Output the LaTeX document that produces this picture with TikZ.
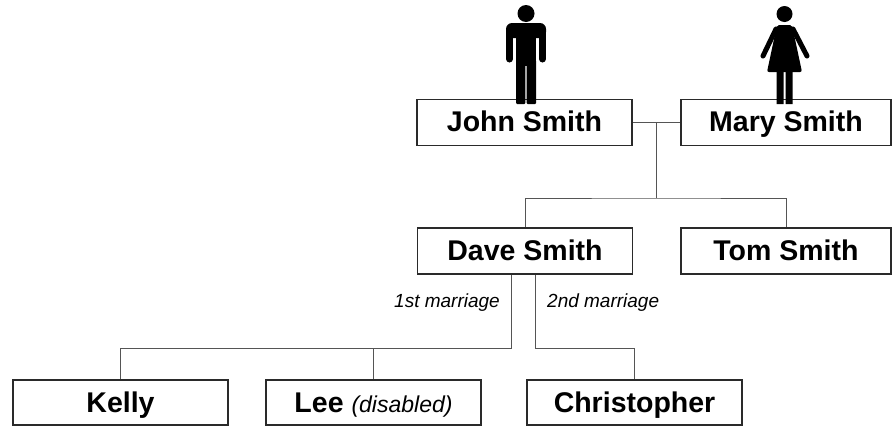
\documentclass[tikz,border=0pt]{standalone}
\usepackage{fontspec}
\setmainfont{Liberation Sans}
\usepackage{tikz}

\definecolor{boxline}{HTML}{2A2A2A}
\definecolor{linkline}{HTML}{555555}
\tikzset{
  person/.style={draw=boxline, line width=1.6pt, fill=white, inner sep=0pt,
    minimum width=215pt, minimum height=46pt, text height=22.5pt, text depth=4.5pt,
    font=\fontsize{28.5}{30}\selectfont\bfseries},
  link/.style={draw=linkline, line width=1pt},
  marr/.style={font=\fontsize{19}{20}\selectfont\itshape, inner sep=0pt},
}

\begin{document}
\begin{tikzpicture}[x=1pt,y=-1pt]
\useasboundingbox (0,0) rectangle (892,426);
\node[person] (john) at (524.5,122.5) {John Smith};
\node[person, minimum width=210pt] (mary) at (786,122.5) {Mary Smith};
\node[person] (dave) at (525,251) {Dave Smith};
\node[person, minimum width=210pt] (tom) at (786,251) {Tom Smith};
\node[person, minimum height=45pt, text height=23.5pt, text depth=3.5pt] (kelly) at (120.5,402.5) {Kelly};
\node[person, minimum height=45pt, text height=23.5pt, text depth=3.5pt] (lee) at (373.5,402.5) {Lee {\fontseries{m}\itshape\fontsize{23}{24}\selectfont(disabled)}};
\node[person, minimum height=45pt, text height=23.5pt, text depth=3.5pt] (chris) at (634.5,402.5) {Christopher};
% parents and their sons
\draw[link] (john) -- coordinate[midway] (wed) (mary);
\coordinate (sib) at (656.5,198);
\draw[link] (wed) -- (sib);
\draw[link] (dave.north) |- (sib) -| (tom.north);
% Dave's two marriages
\coordinate (first) at (511,348);
\coordinate (second) at (535,348);
\draw[link] (dave.south -| first) -- (first) -| (kelly.north);
\draw[link] (lee.north) -- (lee.north |- first);
\draw[link] (dave.south -| second) -- (second) -| (chris.north);
\node[marr, anchor=east] (wife1) at (500,303) {1st marriage};
\node[marr, anchor=west] (wife2) at (547,303) {2nd marriage};
% man
\fill (526,13.5) circle (8.5);
\fill[rounded corners=6pt] (506,38) -- (506,23) -- (546,23) -- (546,38) -- cycle;
\draw[line width=7pt, line cap=round] (509.5,32) -- (509.5,59) (542.5,32) -- (542.5,59);
\fill (516,30) rectangle (536,66);
\fill[rounded corners=1pt] (516,60) rectangle (525.3,104) (526.7,60) rectangle (536,104);
% woman
\fill (784.5,14) circle (8);
\fill[rounded corners=2pt] (777,25) -- (792,25) -- (802,72) -- (767,72) -- cycle;
\draw[line width=5pt, line cap=round] (776,29) -- (763,56) (793,29) -- (807,56);
\fill (776.5,70) rectangle (783.5,104) (785.5,70) rectangle (792.5,104);
\end{tikzpicture}
\end{document}
